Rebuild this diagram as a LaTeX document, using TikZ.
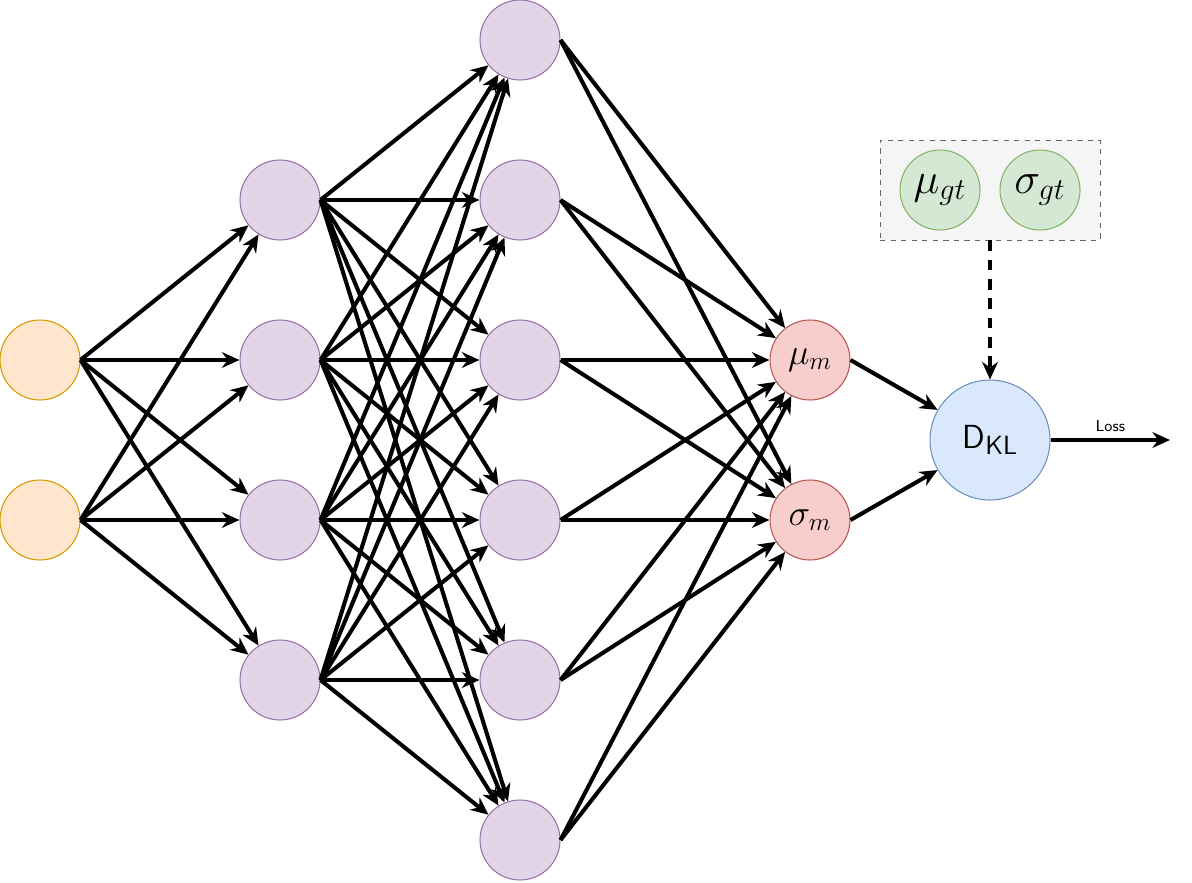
\documentclass[tikz,border=0pt]{standalone}
\usetikzlibrary{arrows.meta}
\definecolor{inF}{HTML}{FFE6CC}\definecolor{inD}{HTML}{D79B00}
\definecolor{hF}{HTML}{E1D5E7}\definecolor{hD}{HTML}{9673A6}
\definecolor{oF}{HTML}{F8CECC}\definecolor{oD}{HTML}{B85450}
\definecolor{kF}{HTML}{DAE8FC}\definecolor{kD}{HTML}{6C8EBF}
\definecolor{gF}{HTML}{D5E8D4}\definecolor{gD}{HTML}{82B366}
\definecolor{bF}{HTML}{F5F5F5}\definecolor{bD}{HTML}{666666}
\begin{document}
\begin{tikzpicture}[x=0.02cm,y=-0.02cm,
  neur/.style={circle,minimum size=1.6cm,inner sep=0pt,line width=0.6pt},
  inn/.style={neur,fill=inF,draw=inD},
  hid/.style={neur,fill=hF,draw=hD},
  outn/.style={neur,fill=oF,draw=oD,font=\fontsize{21}{21}\selectfont},
  gtn/.style={neur,fill=gF,draw=gD,font=\fontsize{23}{23}\selectfont},
  con/.style={line width=2.3pt,-{Stealth[length=10pt,width=9pt]}}]
\useasboundingbox (0,0) rectangle (1192,882);
\node[draw=bD,fill=bF,dashed,minimum width=4.4cm,minimum height=2cm,inner sep=0pt] (box) at (990,190) {};
\node[gtn] (mg) at (940,190) {$\mu_{gt}$};
\node[gtn] (sg) at (1040,190) {$\sigma_{gt}$};
\foreach \i/\y in {1/360,2/520} \node[inn] (a\i) at (40,\y) {};
\foreach \i/\y in {1/200,2/360,3/520,4/680} \node[hid] (b\i) at (280,\y) {};
\foreach \i/\y in {1/40,2/200,3/360,4/520,5/680,6/840} \node[hid] (c\i) at (520,\y) {};
\node[outn] (mu) at (810,360) {$\mu_m$};
\node[outn] (sd) at (810,520) {$\sigma_m$};
\node[circle,minimum size=2.4cm,inner sep=0pt,fill=kF,draw=kD,line width=0.6pt,font=\sffamily\fontsize{19}{19}\selectfont] (kl) at (990,440) {D\raisebox{-0.4ex}{\fontsize{15}{15}\selectfont KL}};
\coordinate (end) at (1170,440);
\foreach \s in {1,2} \foreach \t in {1,...,4} \draw[con] (a\s.east) -- (b\t);
\foreach \s in {1,...,4} \foreach \t in {1,...,6} \draw[con] (b\s.east) -- (c\t);
\foreach \s in {1,...,6} \foreach \t in {mu,sd} \draw[con] (c\s.east) -- (\t);
\draw[con] (mu.east) -- (kl);
\draw[con] (sd.east) -- (kl);
\draw[con] (kl.east) -- node[above,font=\sffamily\fontsize{9}{9}\selectfont]{Loss} (end);
\draw[con,dash pattern=on 6pt off 5pt] (box.south) -- (kl.north);
\end{tikzpicture}
\end{document}
